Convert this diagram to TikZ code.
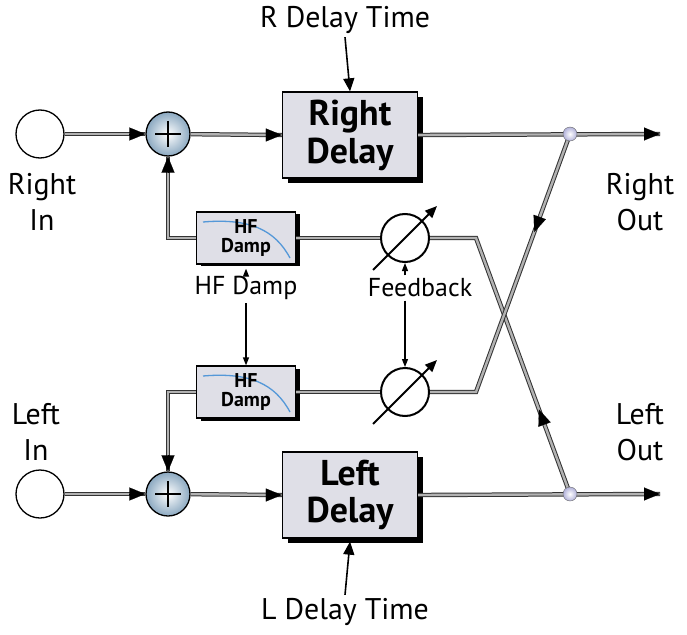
\documentclass[tikz,border=0pt]{standalone}
\usepackage{fontspec}
\setmainfont{PT Sans}
\usetikzlibrary{arrows.meta,calc}
\begin{document}
\begin{tikzpicture}[x=1bp,y=-1bp,
  wire/.style={draw=black!80,line width=1bp,double=black!30,double distance=2.4bp},
  tip/.style={black,line width=0.1bp,-{Triangle[length=16bp,width=13bp]}},
  thin/.style={black,line width=1.3bp,-{Triangle[length=8bp,width=6bp]}},
  incirc/.style={circle,draw,line width=1.3bp,fill=white,minimum size=48bp,inner sep=0},
  sum/.style={circle,draw,line width=1.3bp,inner color=white,outer color=blue!45!cyan!30!gray!70,minimum size=44bp,inner sep=0},
  dial/.style={circle,draw,line width=2bp,minimum size=48bp,inner sep=0},
  dot/.style={circle,draw=black!60,inner color=white,outer color=blue!35!gray!45,minimum size=14bp,inner sep=0},
  delay/.style={draw,line width=1.3bp,fill=blue!15!gray!22,minimum width=135bp,minimum height=86bp,align=center,font=\bfseries\fontsize{36}{38}\selectfont,inner sep=0},
  hf/.style={draw,line width=1.3bp,fill=blue!15!gray!22,minimum width=99bp,minimum height=52bp,align=center,font=\bfseries\fontsize{20}{19}\selectfont,inner sep=0},
  lbl/.style={align=center,font=\fontsize{30}{36}\selectfont},
  slbl/.style={font=\fontsize{26}{28}\selectfont}]
\useasboundingbox (0,0) rectangle (687,635);
% shadows
\fill (288,97) rectangle (423,183);
\fill (288,457) rectangle (423,543);
\fill (201,214) rectangle (300,266);
\fill (201,369) rectangle (300,421);
% nodes
\node[incirc] (rin) at (40,134) {};
\node[incirc] (lin) at (40,494) {};
\node[sum] (rs) at (168,134) {};
\node[sum] (ls) at (168,494) {};
\foreach \s in {rs,ls}{
  \draw[line width=2bp] ($(\s)+(-13,0)$) -- ($(\s)+(13,0)$);
  \draw[line width=2bp] ($(\s)+(0,-13)$) -- ($(\s)+(0,13)$);}
\node[delay] (rd) at (350,135) {Right\\Delay};
\node[delay] (ld) at (350,495) {Left\\Delay};
\node[hf] (rh) at (246,238) {};
\node[hf] (lh) at (246,392) {};
\draw[cyan!60!blue!70,line width=1.3bp] (203,222) .. controls (250,218) and (275,230) .. (290,258);
\draw[cyan!60!blue!70,line width=1.3bp] (203,376) .. controls (250,372) and (275,384) .. (290,412);
\node[hf,fill=none,draw=none] at (246,238) {HF\\Damp};
\node[hf,fill=none,draw=none] at (246,392) {HF\\Damp};
\node[dial] (rf) at (405,238) {};
\node[dial] (lf) at (405,392) {};
\foreach \d in {rf,lf}
  \draw[line width=2bp,-{Triangle[length=12bp,width=10bp]}] ($(\d)+(-32,32)$) -- ($(\d)+(32,-32)$);
\coordinate (ro) at (660,134);
\coordinate (lo) at (660,494);
\coordinate (rj) at (570,134);
\coordinate (lj) at (570,494);
\coordinate (rk) at (476,238);
\coordinate (lk) at (476,392);
% wires
\draw[wire] (rin) -- (rs.west);
\draw[wire] (lin) -- (ls.west);
\draw[wire] (rs) -- (rd.west);
\draw[wire] (ls) -- (ld.west);
\draw[wire] (rd.east) -- (ro);
\draw[wire] (ld.east) -- (lo);
\draw[wire] (rh.west) -| (rs.south);
\draw[wire] (lh.west) -| (ls.north);
\draw[wire] (rh.east) -- (rf.west);
\draw[wire] (lh.east) -- (lf.west);
\draw[wire] (rf.east) -- (rk) -- (lj);
\draw[wire] (lf.east) -- (lk) -- (rj);
% arrowheads
\foreach \e in {rs.west,ls.west,rd.west,ld.west,ro,lo}
  \draw[tip] ($(\e)+(-2,0)$) -- (\e);
\draw[tip] ($(rs.south)+(0,2)$) -- (rs.south);
\draw[tip] ($(ls.north)+(0,-2)$) -- (ls.north);
\draw[tip] ($(rj)!0.37!(lk)$) -- ($(rj)!0.38!(lk)$);
\draw[tip] ($(lj)!0.32!(rk)$) -- ($(lj)!0.33!(rk)$);
\node[dot] at (rj) {};
\node[dot] at (lj) {};
% labels
\node[lbl] (rdt) at (345,20) {R Delay Time};
\node[lbl] (ldt) at (345,612) {L Delay Time};
\draw[line width=1.6bp,-{Triangle[length=13bp,width=11bp]}] (rdt.south) -- (rd.north);
\draw[line width=1.6bp,-{Triangle[length=13bp,width=11bp]}] (ldt.north) -- ($(ld.south)+(0,3)$);
\node[lbl] (rinl) at (42,202) {Right\\In};
\node[lbl] (linl) at (36,432) {Left\\In};
\node[lbl] (routl) at (640,202) {Right\\Out};
\node[lbl] (loutl) at (640,432) {Left\\Out};
\node[slbl] (hfl) at (246,288) {HF Damp};
\node[slbl] (fbl) at (420,288) {Feedback};
\draw[thin] (hfl.north) -- ($(rh.south)+(0,4)$);
\draw[thin] (hfl.south) -- (lh.north);
\draw[thin] (rf.south |- fbl.north) -- (rf.south);
\draw[thin] (lf.north |- fbl.south) -- (lf.north);
\end{tikzpicture}
\end{document}
